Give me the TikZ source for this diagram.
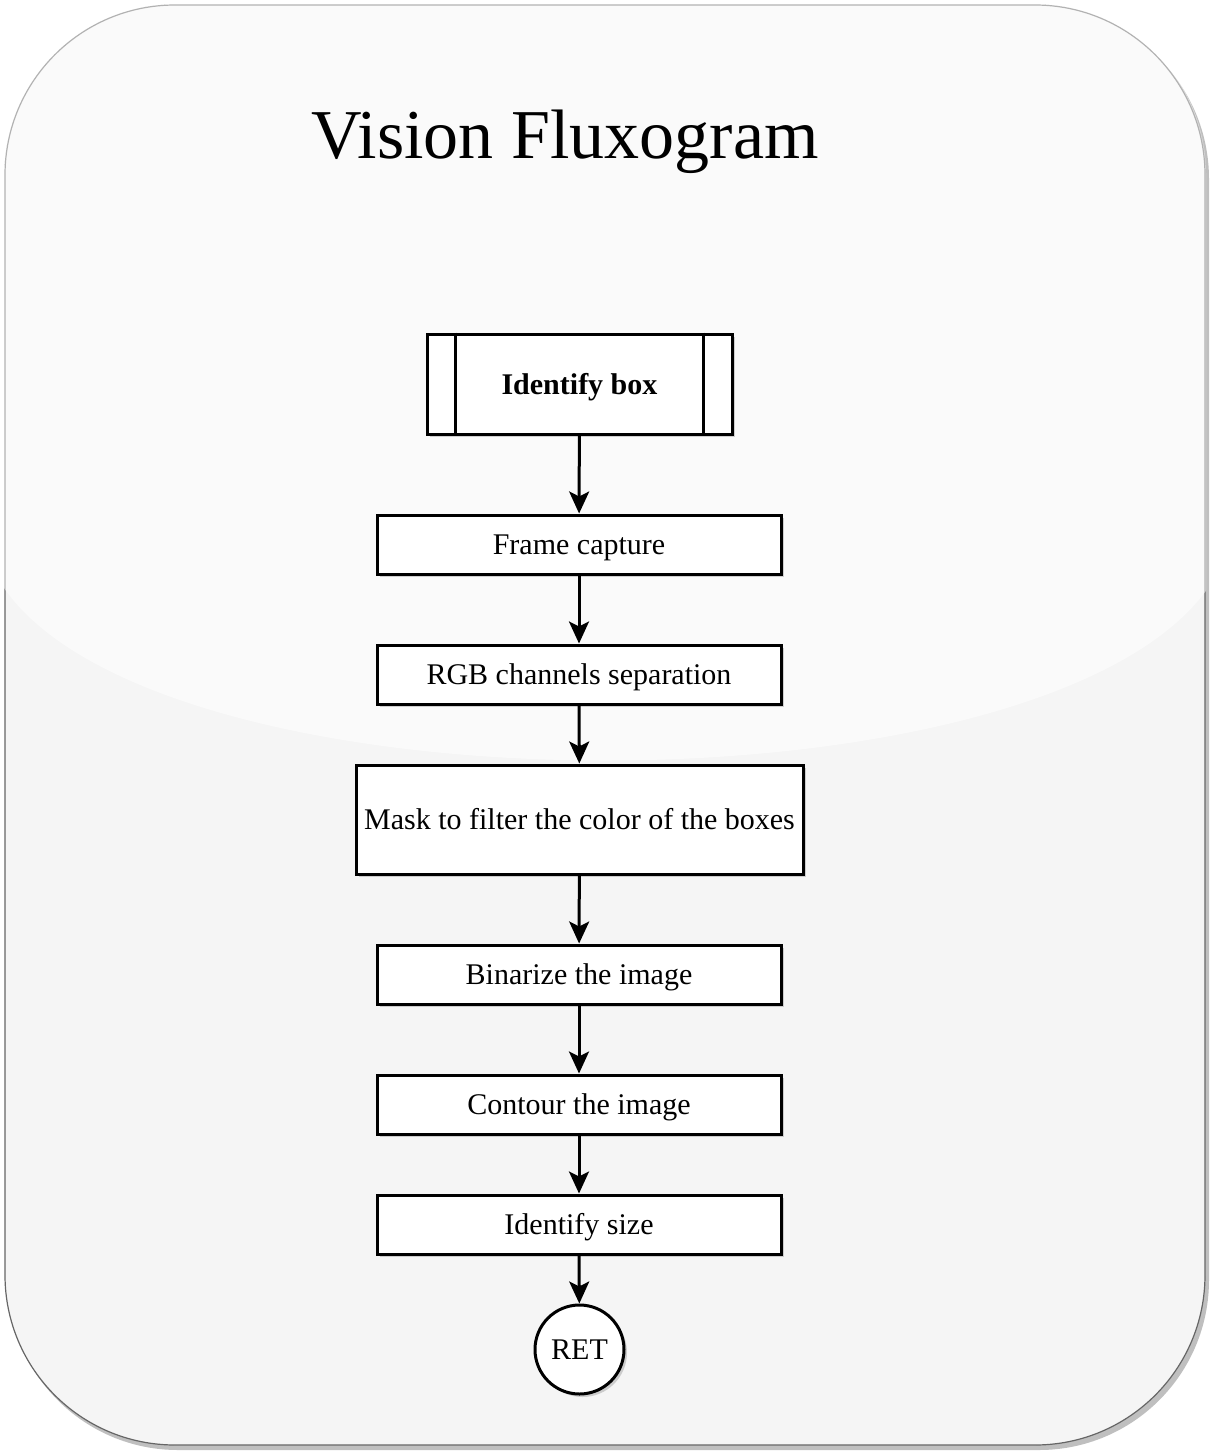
\documentclass[tikz,border=0pt]{standalone}
\usepackage{fontspec}
\setmainfont{Liberation Serif}
\usetikzlibrary{arrows.meta,shadows}
\tikzset{
  stepbox/.style={draw,line width=3pt,fill=white,minimum width=404pt,minimum height=59pt,
    inner sep=0pt,text height=20pt,text depth=0pt,font=\fontsize{30}{36}\selectfont,
    drop shadow={shadow xshift=3pt,shadow yshift=-3pt,opacity=0.35}},
  flow/.style={line width=3pt,-{Stealth[length=22pt,width=20pt,inset=5pt]}}
}
\begin{document}
\begin{tikzpicture}[x=1pt,y=-1pt]
        \useasboundingbox (0,0) rectangle (1212,1454);
        % background panel
        \fill[black!25,rounded corners=170pt] (8,9) rectangle (1209,1450);
        \fill[black!4,draw=black!60,line width=1.2pt,rounded corners=170pt] (5,5) rectangle (1205,1445);
        \begin{scope}
          \clip[rounded corners=170pt] (4,4) rectangle (1206,1446);
          \fill[white,opacity=0.5] (0,0) -- (0,582) .. controls (150,820) and (1060,820) .. (1212,582) -- (1212,0) -- cycle;
        \end{scope}
        \node[anchor=base] (title) at (565,158) {\fontsize{70}{84}\selectfont Vision Fluxogram};
        % steps
        \node[stepbox,minimum width=305pt,minimum height=100pt,font=\fontsize{30}{36}\selectfont\bfseries] (ident) at (579.5,384) {Identify box};
        \draw[line width=3pt] ([xshift=30pt]ident.north west) -- ([xshift=30pt]ident.south west);
        \draw[line width=3pt] ([xshift=-30pt]ident.north east) -- ([xshift=-30pt]ident.south east);
        \node[stepbox] (frame) at (579,544.5) {Frame capture};
        \node[stepbox] (rgb) at (579,674.5) {RGB channels separation};
        \node[stepbox,minimum width=447pt,minimum height=109pt] (mask) at (579.5,819.5) {Mask to filter the color of the boxes};
        \node[stepbox] (binar) at (579,974.5) {Binarize the image};
        \node[stepbox] (contour) at (579,1104.5) {Contour the image};
        \node[stepbox] (size) at (579,1224.5) {Identify size};
        \node[stepbox,circle,minimum width=89pt,minimum height=89pt] (ret) at (579.5,1349.5) {RET};
        % connectors
        \draw[flow] (ident) -- (frame);
        \draw[flow] (frame) -- (rgb);
        \draw[flow] (rgb) -- (mask);
        \draw[flow] (mask) -- (binar);
        \draw[flow] (binar) -- (contour);
        \draw[flow] (contour) -- (size);
        \draw[flow] (size) -- (ret);
      \end{tikzpicture}
\end{document}
